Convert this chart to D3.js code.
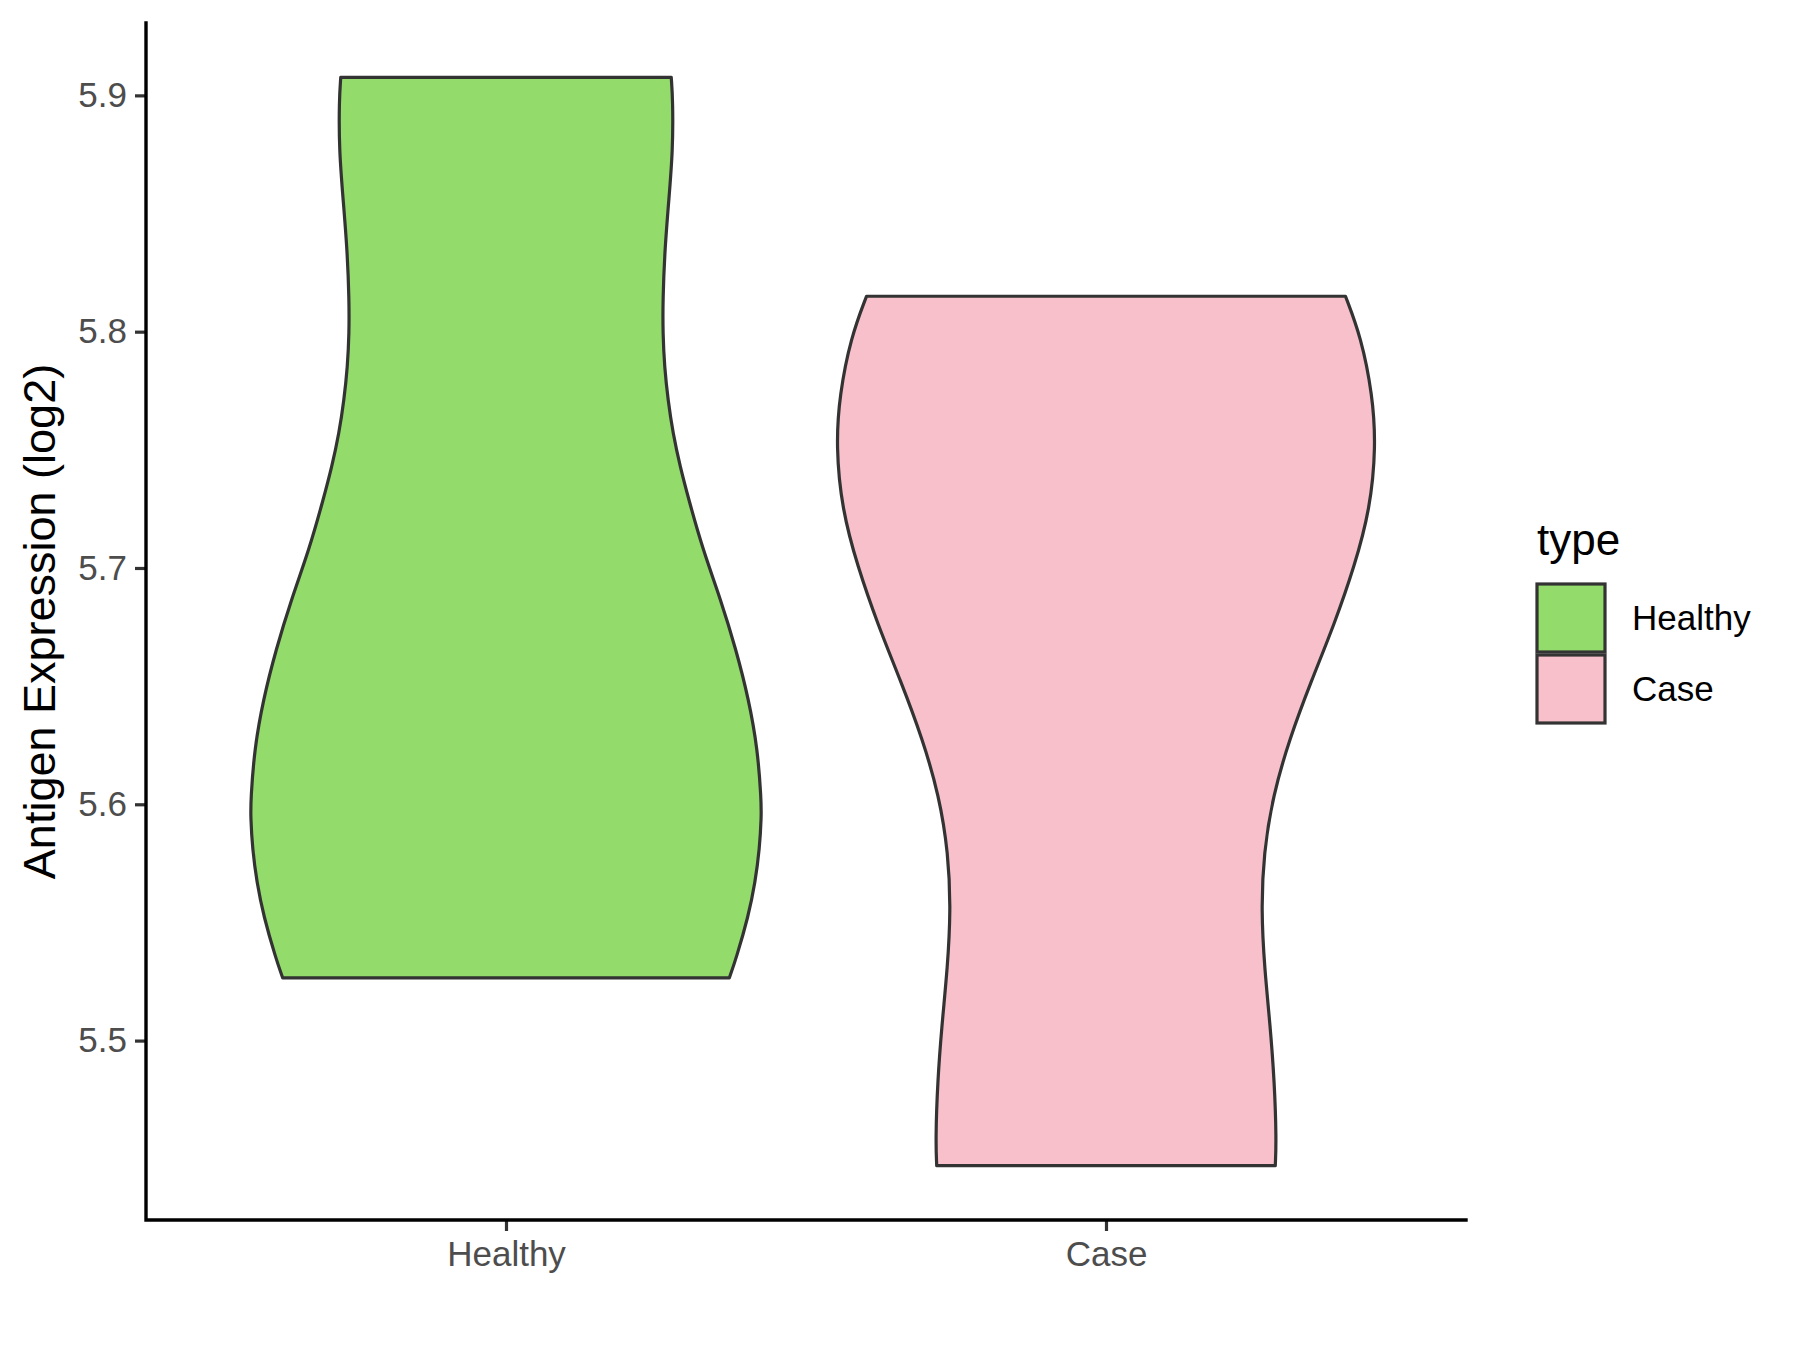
<!DOCTYPE html>
<html>
<head>
<meta charset="utf-8">
<script src="https://cdn.jsdelivr.net/npm/d3@7"></script>
<style>
  html, body { margin: 0; padding: 0; background: #ffffff; }
  svg { display: block; font-family: "Liberation Sans", Arial, sans-serif; }
</style>
</head>
<body>
<svg id="chart" width="1800" height="1350"></svg>
<script>
// ---- data ----
const categories = ["Healthy", "Case"];
const fillColors = ["#93DB6A", "#F7C0CB"];
const yTicks = [5.5, 5.6, 5.7, 5.8, 5.9];
const yTitle = "Antigen Expression (log2)";
const legendTitle = "type";

// violin outlines: expression values and relative density (half-width)
const healthyValues = [5.9076, 5.8979, 5.8768, 5.8556, 5.8345, 5.8134, 5.7994, 5.7851, 5.7711, 5.7572,
                       5.7428, 5.7289, 5.7078, 5.6867, 5.6655, 5.6444, 5.6233, 5.6022, 5.5950, 5.5810,
                       5.5671, 5.5527, 5.5346, 5.5265];
const healthyDensity = [0.612, 0.618, 0.618, 0.603, 0.588, 0.581, 0.581, 0.587, 0.600, 0.618,
                        0.645, 0.677, 0.729, 0.795, 0.852, 0.899, 0.932, 0.945, 0.946, 0.939,
                        0.923, 0.898, 0.852, 0.827];
const caseValues = [5.8150, 5.7976, 5.7733, 5.7515, 5.7248, 5.7006, 5.6763, 5.6521, 5.6278, 5.6036,
                    5.5793, 5.5550, 5.5308, 5.5065, 5.4823, 5.4581, 5.4471];
const caseDensity = [0.887, 0.945, 0.987, 1.000, 0.978, 0.920, 0.846, 0.760, 0.680, 0.618,
                     0.584, 0.575, 0.587, 0.608, 0.624, 0.631, 0.627];

const violins = [
  { cat: categories[0], fill: fillColors[0], pts: healthyValues.map((v, i) => ({ v, d: healthyDensity[i] })) },
  { cat: categories[1], fill: fillColors[1], pts: caseValues.map((v, i) => ({ v, d: caseDensity[i] })) }
];

// ---- layout ----
const svg = d3.select("#chart");
const mLeft = 146, mRight = 1466, mTop = 23, mBottom = 1220;

const allVals = healthyValues.concat(caseValues);
const ext = d3.extent(allVals);
const pad = (ext[1] - ext[0]) * 0.05;

const x = d3.scalePoint().domain(categories).range([mLeft, mRight]).padding(0.6);
const y = d3.scaleLinear().domain([ext[0] - pad, ext[1] + pad]).range([mBottom, mTop]);
const w = d3.scaleLinear().domain([0, 1]).range([0, x.step() * 0.45]);

// ---- violins ----
violins.forEach(vl => {
  const cx = x(vl.cat);
  const area = d3.area()
    .y(d => y(d.v))
    .x0(d => cx - w(d.d))
    .x1(d => cx + w(d.d))
    .curve(d3.curveBasis);
  svg.append("path")
    .attr("d", area(vl.pts))
    .attr("fill", vl.fill)
    .attr("stroke", "#333333")
    .attr("stroke-width", 3.2)
    .attr("stroke-linejoin", "round");
});

// ---- axes ----
const yAxis = d3.axisLeft(y).tickValues(yTicks).tickFormat(d3.format(".1f")).tickSize(11).tickPadding(8);
const gy = svg.append("g").attr("transform", `translate(${mLeft},0)`).call(yAxis);
gy.select(".domain").remove();
gy.selectAll(".tick line").attr("stroke", "#333333").attr("stroke-width", 3.2);
gy.selectAll(".tick text").attr("fill", "#4D4D4D").attr("font-size", 35)
  .attr("font-family", "Liberation Sans, Arial, sans-serif");

const xAxis = d3.axisBottom(x).tickSize(11).tickPadding(10);
const gx = svg.append("g").attr("transform", `translate(0,${mBottom})`).call(xAxis);
gx.select(".domain").remove();
gx.selectAll(".tick line").attr("stroke", "#333333").attr("stroke-width", 3.2);
gx.selectAll(".tick text").attr("fill", "#4D4D4D").attr("font-size", 35)
  .attr("font-family", "Liberation Sans, Arial, sans-serif");

// axis lines
svg.append("path")
  .attr("d", `M${mLeft},${mTop}V${mBottom}H${mRight}`)
  .attr("fill", "none").attr("stroke", "#000000").attr("stroke-width", 3.4)
  .attr("stroke-linecap", "square");

// y title
svg.append("text")
  .attr("transform", `translate(55,${(mTop + mBottom) / 2}) rotate(-90)`)
  .attr("text-anchor", "middle")
  .attr("font-size", 45)
  .attr("fill", "#000000")
  .text(yTitle);

// ---- legend ----
const lg = svg.append("g").attr("transform", "translate(1537,0)");
lg.append("text").attr("x", 0).attr("y", 555).attr("font-size", 44).attr("fill", "#000000").text(legendTitle);
categories.forEach((c, i) => {
  const ky = 584 + i * 71;
  lg.append("rect").attr("x", 0).attr("y", ky).attr("width", 68).attr("height", 68)
    .attr("fill", fillColors[i]).attr("stroke", "#333333").attr("stroke-width", 3.2);
  lg.append("text").attr("x", 95).attr("y", ky + 34).attr("dy", "0.35em")
    .attr("font-size", 35).attr("fill", "#000000").text(c);
});
</script>
</body>
</html>
